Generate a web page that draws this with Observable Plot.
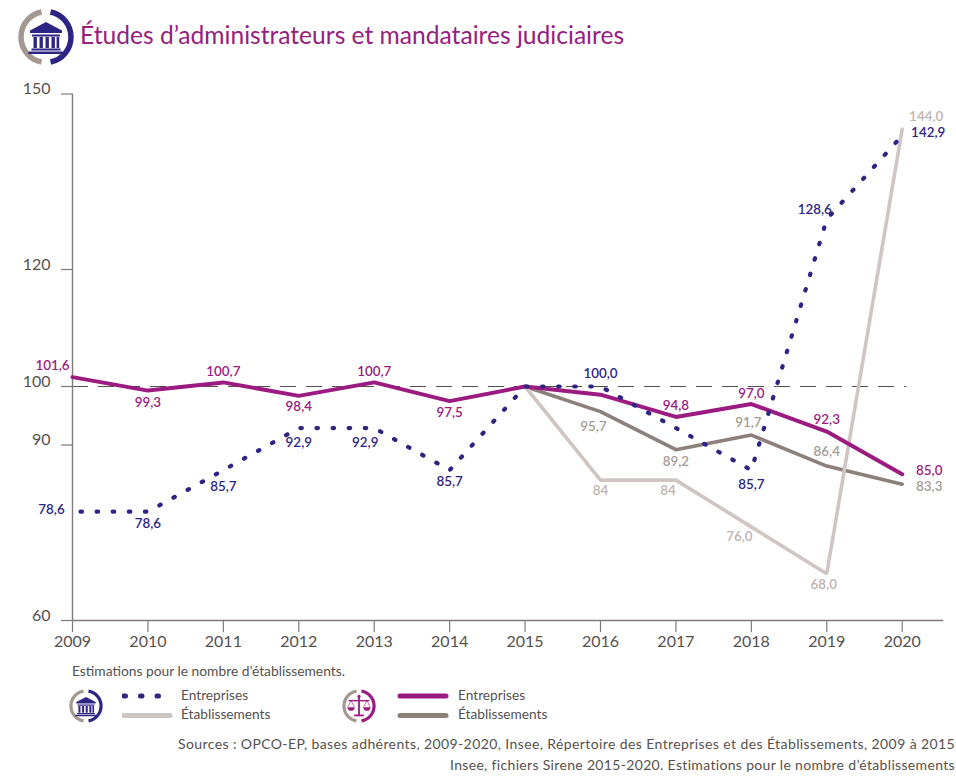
<!DOCTYPE html>
<html lang="fr">
<head>
<meta charset="utf-8">
<script src="https://cdn.jsdelivr.net/npm/d3@7"></script>
<script src="https://cdn.jsdelivr.net/npm/@observablehq/plot@0.6"></script>
<style>
html,body{margin:0;padding:0;background:#fff;width:956px;height:777px;overflow:hidden;font-family:Lato,sans-serif;}
#page{position:relative;width:956px;height:777px;overflow:hidden;}
#header{position:relative;height:70px;}
#title{position:absolute;left:80px;top:17px;font-size:24.6px;line-height:36px;color:#952080;white-space:nowrap;}
#chart{position:absolute;left:0;top:70px;}
.t{position:absolute;white-space:nowrap;color:#55514f;line-height:16px;}
.ic{position:absolute;}
</style>
</head>
<body>
<svg width="0" height="0" style="position:absolute">
  <defs>
    <symbol id="bank" viewBox="0 0 56 56">
      <path d="M28 13 L44 21.5 L44 24 L12 24 L12 21.5 Z"/>
      <rect x="14" y="25.5" width="28" height="2"/>
      <rect x="15.5" y="28" width="3.4" height="11"/><rect x="21.5" y="28" width="3.4" height="11"/>
      <rect x="27.5" y="28" width="3.4" height="11"/><rect x="33.5" y="28" width="3.4" height="11"/><rect x="38.6" y="28" width="2.6" height="11"/>
      <rect x="13.5" y="39.5" width="29" height="2"/>
      <path d="M11 42.5 H45 L46 45 H10 Z"/>
    </symbol>
    <symbol id="scales" viewBox="0 0 56 56">
      <rect x="26.5" y="12" width="3" height="31"/>
      <rect x="20" y="42" width="16" height="3"/>
      <rect x="11" y="18" width="34" height="2.4"/>
      <circle cx="28" cy="12" r="2.5"/>
      <path d="M9 30 H21 C21 38 9 38 9 30 Z"/>
      <path d="M35 30 H47 C47 38 35 38 35 30 Z"/>
      <path d="M15 19 L9.5 30 M15 19 L20.5 30 M41 19 L35.5 30 M41 19 L46.5 30" fill="none" stroke="currentColor" stroke-width="1"/>
    </symbol>
  </defs>
</svg>
<div id="page">
  <div id="header">
    <svg class="ic" style="left:17px;top:8.5px" width="58" height="56" viewBox="0 0 58 56">
      <path d="M24.5 3 A25.5 25.5 0 0 0 24.5 53" fill="none" stroke="#a3978f" stroke-width="5.5"/>
      <path d="M33.5 3 A25.5 25.5 0 0 1 33.5 53" fill="none" stroke="#2e2483" stroke-width="5.5"/>
      <use href="#bank" x="1" y="0" width="56" height="56" fill="#2e2483"/>
    </svg>
    <div id="title">Études d’administrateurs et mandataires judiciaires</div>
  </div>
  <div id="chart"></div>
  <div class="t" style="left:72px;top:663px;font-size:13.8px">Estimations pour le nombre d’établissements.</div>

  <svg class="ic" style="left:69px;top:689px" width="34" height="34" viewBox="0 0 34 34">
    <path d="M14.5 2.2 A15 15 0 0 0 14.5 31.8" fill="none" stroke="#a3978f" stroke-width="3.2"/>
    <path d="M19.5 2.2 A15 15 0 0 1 19.5 31.8" fill="none" stroke="#2e2483" stroke-width="3.2"/>
    <use href="#bank" x="0" y="0" width="34" height="34" fill="#2e2483"/>
  </svg>
  <svg class="ic" style="left:122px;top:690px" width="52" height="32">
    <line x1="2" x2="40" y1="6" y2="6" stroke="#2e2483" stroke-width="5" stroke-linecap="round" stroke-dasharray="1.5 15"/>
    <line x1="2" x2="48" y1="25.5" y2="25.5" stroke="#cfc6c4" stroke-width="5" stroke-linecap="round"/>
  </svg>
  <div class="t" style="left:181px;top:687px;font-size:13.7px">Entreprises</div>
  <div class="t" style="left:181px;top:706px;font-size:13.7px">Établissements</div>

  <svg class="ic" style="left:342px;top:689px" width="34" height="34" viewBox="0 0 34 34">
    <path d="M14.5 2.2 A15 15 0 0 0 14.5 31.8" fill="none" stroke="#a3978f" stroke-width="3.2"/>
    <path d="M19.5 2.2 A15 15 0 0 1 19.5 31.8" fill="none" stroke="#9b1b81" stroke-width="3.2"/>
    <use href="#scales" x="0" y="0" width="34" height="34" fill="#9b1b81" color="#9b1b81"/>
  </svg>
  <svg class="ic" style="left:396px;top:690px" width="54" height="32">
    <line x1="4" x2="50" y1="6" y2="6" stroke="#9b1b81" stroke-width="5" stroke-linecap="round"/>
    <line x1="4" x2="50" y1="25.5" y2="25.5" stroke="#8d7f7a" stroke-width="5" stroke-linecap="round"/>
  </svg>
  <div class="t" style="left:458px;top:687px;font-size:13.7px">Entreprises</div>
  <div class="t" style="left:458px;top:706px;font-size:13.7px">Établissements</div>

  <div class="t" style="left:178px;top:736px;font-size:14px;letter-spacing:.4px">Sources : OPCO-EP, bases adhérents, 2009-2020, Insee, Répertoire des Entreprises et des Établissements, 2009 à 2015</div>
  <div class="t" style="left:450px;top:757px;font-size:14px;letter-spacing:.33px">Insee, fichiers Sirene 2015-2020. Estimations pour le nombre d’établissements</div>
</div>
<script>
const years = [2009,2010,2011,2012,2013,2014,2015,2016,2017,2018,2019,2020];
const entreprisesAdmin = [78.6,78.6,85.7,92.9,92.9,85.7,100,100,92.9,85.7,128.6,142.9];
const entreprisesJustice = [101.6,99.3,100.7,98.4,100.7,97.5,100,98.6,94.8,97,92.3,85];
const etabYears = [2015,2016,2017,2018,2019,2020];
const etabAdmin = [100,84,84,76,68,144];
const etabJustice = [100,95.7,89.2,91.7,86.4,83.3];
const yTicks = [60,90,100,120,150];

const BLUE="#2e2483", MAG="#9b1b81", LIGHT="#cfc6c4", BROWN="#8d7f7a";
const LIGHT_T="#bfb3af", BROWN_T="#a69b96";
const FONT=13.4;

const pts = (xs,ys)=>xs.map((x,i)=>({x,y:ys[i]}));
const fmt = v=>v.toFixed(1).replace(".",",");
const fmtInt = v=>String(v);

function lab(xs,ys,list,dx,dy,fill,f=fmt){
  const data = pts(xs,ys).filter(d=>list.includes(d.x));
  return Plot.text(data,{x:"x",y:"y",text:d=>f(d.y),dx,dy,fill,fontSize:FONT,fontWeight:600});
}
const M=[years,entreprisesJustice], B=[years,entreprisesAdmin], L=[etabYears,etabAdmin], R=[etabYears,etabJustice];

const chart = Plot.plot({
  width:956,height:590,
  marginLeft:72,marginRight:54.3,marginTop:23.5,marginBottom:40,
  style:{fontFamily:"Lato,sans-serif",background:"transparent",overflow:"visible"},
  x:{type:"linear",domain:[2009,2020],axis:null,label:null},
  y:{type:"linear",domain:[60,150],axis:null,label:null},
  marks:[
    Plot.ruleY([100],{x1:2009,x2:2020.06,stroke:"#55514f",strokeWidth:1,strokeDasharray:"16 10"}),
    Plot.ruleX([2009],{y1:60,y2:150,stroke:"#807b7a",strokeWidth:1.4}),
    Plot.ruleY([60],{x1:2009,x2:2020.55,stroke:"#807b7a",strokeWidth:1.4}),
    Plot.axisY(yTicks,{tickSize:11,tickFormat:()=>"",stroke:"#807b7a",strokeWidth:1.2,label:null}),
    Plot.axisY(yTicks,{tickSize:0,tickPadding:22,dy:-5,fontSize:16,fill:"#55514f",tickFormat:d=>d,label:null}),
    Plot.axisX(years,{tickSize:12,tickPadding:3,fontSize:16,fill:"#55514f",stroke:"#807b7a",strokeWidth:1.2,tickFormat:d=>String(d),label:null}),

    Plot.line(pts(...R),{x:"x",y:"y",stroke:BROWN,strokeWidth:3.6,strokeLinecap:"round",strokeLinejoin:"miter"}),
    Plot.line(pts(...L),{x:"x",y:"y",stroke:LIGHT,strokeWidth:3.6,strokeLinecap:"round",strokeLinejoin:"miter"}),
    Plot.line(pts(...M),{x:"x",y:"y",stroke:MAG,strokeWidth:4,strokeLinecap:"round",strokeLinejoin:"miter"}),
    Plot.line(pts(...B),{x:"x",y:"y",stroke:BLUE,strokeWidth:4.2,strokeLinecap:"round",strokeDasharray:"1.5 14.6",strokeDashoffset:-8}),

    lab(...M,[2009],-20,-11,MAG),
    lab(...M,[2010,2014],0,12,MAG),
    lab(...M,[2012],0,11,MAG),
    lab(...M,[2011,2013,2017],0,-11,MAG),
    lab(...M,[2018],0,-10,MAG),
    lab(...M,[2019],0,-12,MAG),
    lab(...M,[2020],27,-4,MAG),

    lab(...B,[2009],-21,-2,BLUE),
    lab(...B,[2010,2014],0,12,BLUE),
    lab(...B,[2011],0,17,BLUE),
    lab(...B,[2012,2018],0,15,BLUE),
    lab(...B,[2013],-9,15,BLUE),
    lab(...B,[2016],0,-13,BLUE),
    lab(...B,[2019],-12,-9,BLUE),
    lab(...B,[2020],26,-3,BLUE),

    lab(...L,[2016],0,11,LIGHT_T,fmtInt),
    lab(...L,[2017],-8,11,LIGHT_T,fmtInt),
    lab(...L,[2018],-12,10,LIGHT_T),
    lab(...L,[2019],-3,11,LIGHT_T),
    lab(...L,[2020],24,-12,LIGHT_T),

    lab(...R,[2016],-7,15,BROWN_T),
    lab(...R,[2017],0,12,BROWN_T),
    lab(...R,[2018],-3,-12,BROWN_T),
    lab(...R,[2019],0,-14,BROWN_T),
    lab(...R,[2020],27,3,BROWN_T)
  ]
});
document.getElementById("chart").appendChild(chart);
</script>
</body>
</html>
